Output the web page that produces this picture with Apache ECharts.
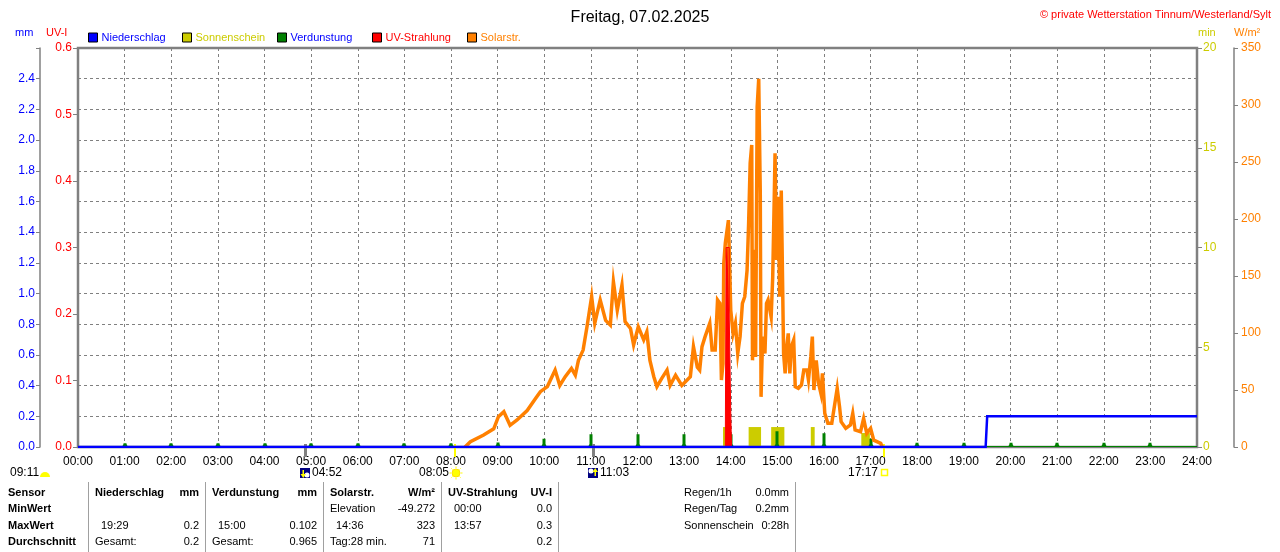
<!DOCTYPE html>
<html>
<head>
<meta charset="utf-8">
<title>Freitag, 07.02.2025</title>
<script src="https://cdn.jsdelivr.net/npm/echarts@6/dist/echarts.min.js"></script>
<style>
  html, body { margin: 0; padding: 0; background: #fff; }
  #chart { width: 1280px; height: 552px; }
</style>
</head>
<body>
<div id="chart"></div>
<script>
const FONT = "'Liberation Sans', Arial, sans-serif";

// Solarstrahlung W/m²
const solarTimes = [
  "08:18", "08:25", "08:42", "08:55", "09:01", "09:08", "09:16", "09:25", "09:38", "09:49",
  "09:55", "10:04", "10:14", "10:20", "10:27", "10:35", "10:40", "10:44", "10:50", "10:55",
  "11:01", "11:05", "11:12", "11:19", "11:25", "11:29", "11:34", "11:40", "11:44", "11:51",
  "11:55", "12:01", "12:08", "12:12", "12:16", "12:21", "12:25", "12:31", "12:38", "12:42",
  "12:49", "12:57", "13:08", "13:12", "13:17", "13:20", "13:23", "13:27", "13:33", "13:36",
  "13:40", "13:43", "13:46", "13:48", "13:50", "13:51", "13:53", "13:57", "13:59", "14:00",
  "14:03", "14:06", "14:09", "14:12", "14:15", "14:18", "14:21", "14:23", "14:25", "14:27",
  "14:28", "14:30", "14:32", "14:34", "14:36", "14:38", "14:39", "14:41", "14:44", "14:46",
  "14:48", "14:52", "14:54", "14:56", "14:57", "14:59", "15:01", "15:03", "15:05", "15:06",
  "15:08", "15:10", "15:12", "15:14", "15:16", "15:18", "15:21", "15:23", "15:27", "15:31",
  "15:34", "15:38", "15:40", "15:43", "15:45", "15:47", "15:50", "15:53", "15:56", "15:58",
  "16:01", "16:05", "16:10", "16:14", "16:17", "16:20", "16:22", "16:28", "16:34", "16:37",
  "16:40", "16:47", "16:51", "16:55", "17:00", "17:04", "17:13", "17:15",
];
const solarValues = [
  0, 4.6, 10.5, 16, 26.6, 31, 19, 23.7, 32, 42.7,
  48.5, 53, 67.5, 54, 61.7, 69, 63, 76, 85, 105.5,
  132, 108.5, 129, 111, 107, 145, 120, 142, 110, 104,
  89.5, 105.5, 94, 101, 76, 61.7, 53, 60, 67.5, 54,
  63, 54, 61.7, 88, 70, 67.5, 88, 96.8, 108.5, 85,
  85, 129, 126, 58.8, 73, 161, 178.7, 199, 199, 120,
  99.7, 108.5, 82, 96.8, 126, 131.8, 155, 196, 249, 265,
  76, 173, 79, 298.5, 323, 222.5, 44, 96.8, 82, 126,
  129, 114, 149, 219.5, 257.6, 164, 219.5, 131.8, 225, 178.7,
  82, 64.6, 88, 99.7, 64.6, 88, 93.9, 52.9, 51.5, 54.4,
  67.5, 67.5, 58.8, 79, 96.8, 50, 76, 55.9, 47, 64.6,
  29.5, 20.8, 20.8, 38.3, 51.5, 35.4, 22.2, 16.4, 19.3, 29.5,
  15, 13.4, 25, 12, 16.4, 6, 3.2, 0,
];

// UV-Index
const uvTimes = ["13:53", "13:54", "13:58", "13:58", "14:00", "14:00", "14:01", "14:01"];
const uvValues = [0, 0.3, 0.3, 0.2, 0.2, 0.05, 0.05, 0];

// Niederschlag mm
const rainTimes = ["00:00", "19:28", "19:29", "19:30", "24:00"];
const rainValues = [0, 0, 0.1, 0.2, 0.2];

// Verdunstung mm je Stunde
const evapHours = ["01:00", "02:00", "03:00", "04:00", "05:00", "06:00", "07:00", "08:00", "09:00", "10:00", "11:00", "12:00",
  "13:00", "14:00", "15:00", "16:00", "17:00", "18:00", "19:00", "20:00", "21:00", "22:00", "23:00"];
const evapValues = [0.025, 0.025, 0.025, 0.025, 0.025, 0.025, 0.025, 0.025, 0.03, 0.054, 0.083, 0.083,
  0.083, 0.083, 0.102, 0.089, 0.054, 0.028, 0.028, 0.028, 0.028, 0.028, 0.028];

// Sonnenschein min
const sunStart = ["13:50", "14:23", "14:52", "15:43", "16:48"];
const sunEnd = ["13:55", "14:39", "15:09", "15:48", "16:59"];
const sunValues = [1, 1, 1, 1, 0.7];

// Mond/Sonne
const eventTimes = ["04:52", "08:05", "11:03", "17:17"];
const eventKinds = ["moonset", "sunrise", "moonrise", "sunset"];
const dayLength = "09:11";

// Achsen [min, max, interval]
const mmTicks = [0, 2.6, 0.2];
const uvTicks = [0, 0.6, 0.1];
const minTicks = [0, 20, 5];
const wTicks = [0, 350, 50];

// Tabelle
const rowLabels = ["Sensor", "MinWert", "MaxWert", "Durchschnitt"];
const sensorNames = ["Niederschlag", "Verdunstung", "Solarstr.", "UV-Strahlung"];
const sensorUnits = ["mm", "mm", "W/m²", "UV-I"];
const minLabels = ["", "", "Elevation", "00:00"];
const minValues = ["", "", "-49.272", "0.0"];
const maxLabels = ["19:29", "15:00", "14:36", "13:57"];
const maxValues = ["0.2", "0.102", "323", "0.3"];
const avgLabels = ["Gesamt:", "Gesamt:", "Tag:28 min.", ""];
const avgValues = ["0.2", "0.965", "71", "0.2"];
const summaryLabels = ["Regen/1h", "Regen/Tag", "Sonnenschein"];
const summaryValues = ["0.0mm", "0.2mm", "0:28h"];

const legendNames = ["Niederschlag", "Sonnenschein", "Verdunstung", "UV-Strahlung", "Solarstr."];
const legendTextColors = ["#0000ff", "#cccc00", "#0000ff", "#ff0000", "#ff8000"];

function toMin(s) {
  const [h, m] = s.split(":").map(Number);
  return h * 60 + m;
}

function fmtTime(v) {
  const h = Math.floor(v / 60);
  const m = v % 60;
  return String(h).padStart(2, "0") + ":" + String(m).padStart(2, "0");
}

const pairs = (times, values) => times.map((t, i) => [toMin(t), values[i]]);

const chart = echarts.init(document.getElementById("chart"));

function textEl(text, x, y, opts = {}) {
  return {
    type: "text",
    silent: true,
    style: {
      text,
      x,
      y,
      fill: opts.color || "#000",
      font: (opts.bold ? "bold " : "") + (opts.size || 11) + "px " + FONT,
      textAlign: opts.align || "left",
      textVerticalAlign: "middle",
    },
  };
}

function buildTable() {
  const els = [];
  const rowsY = [493, 509, 526, 542];
  const seps = [88, 205, 323, 441, 558, 795];
  seps.forEach((x) => {
    els.push({ type: "line", silent: true, shape: { x1: x + 0.5, y1: 482, x2: x + 0.5, y2: 552 }, style: { stroke: "#a0a0a0", lineWidth: 1 } });
  });
  rowLabels.forEach((t, r) => els.push(textEl(t, 8, rowsY[r], { bold: true })));
  const isTime = (s) => /^\d\d:\d\d$/.test(s);
  sensorNames.forEach((name, c) => {
    const left = seps[c] + 7;
    const right = seps[c + 1] - 6;
    els.push(textEl(name, left, rowsY[0], { bold: true }));
    els.push(textEl(sensorUnits[c], right, rowsY[0], { bold: true, align: "right" }));
    const rows = [[minLabels[c], minValues[c]], [maxLabels[c], maxValues[c]], [avgLabels[c], avgValues[c]]];
    rows.forEach(([lab, val], r) => {
      if (lab) els.push(textEl(lab, left + (isTime(lab) ? 6 : 0), rowsY[r + 1]));
      if (val) els.push(textEl(val, right, rowsY[r + 1], { align: "right" }));
    });
  });
  summaryLabels.forEach((lab, r) => {
    els.push(textEl(lab, 684, rowsY[r]));
    els.push(textEl(summaryValues[r], 789, rowsY[r], { align: "right" }));
  });
  return els;
}

function axisTitles() {
  return [
    textEl("mm", 15, 33, { color: "#0000ff" }),
    textEl("UV-I", 46, 33, { color: "#ff0000" }),
    textEl("min", 1198, 33, { color: "#cccc00" }),
    textEl("W/m²", 1234, 33, { color: "#ff8000" }),
    textEl(dayLength, 10, 473, { size: 12 }),
    { type: "sector", silent: true, shape: { cx: 45, cy: 477, r: 5, startAngle: Math.PI, endAngle: Math.PI * 2 }, style: { fill: "#ffff00" } },
  ];
}

function yAxisBase(range, color, opts) {
  return Object.assign({
    type: "value",
    min: range[0],
    max: range[1],
    interval: range[2],
    axisLine: { show: false, onZero: false },
    axisTick: { show: true, length: 5, lineStyle: { color: "#808080" } },
    axisLabel: { color, fontSize: 12, fontFamily: FONT, margin: 6 },
    splitLine: { show: false },
  }, opts);
}

const option = {
  animation: false,
  backgroundColor: "#fff",
  textStyle: { fontFamily: FONT },
  title: [
    { text: "Freitag, 07.02.2025", left: "center", top: 5, textStyle: { fontSize: 16, fontWeight: "normal", color: "#000", fontFamily: FONT } },
    { text: "© private Wetterstation Tinnum/Westerland/Sylt", right: 4, top: 4, textStyle: { fontSize: 11, fontWeight: "normal", color: "#ff0000", fontFamily: FONT } },
  ],
  legend: legendNames.map((name, i) => ({
    left: [88, 182, 277, 372, 467][i],
    top: 32,
    padding: 0,
    itemWidth: 9,
    itemHeight: 9,
    itemGap: 0,
    icon: "rect",
    selectedMode: false,
    data: [name],
    itemStyle: { borderColor: "#000", borderWidth: 1 },
    textStyle: { color: legendTextColors[i], fontSize: 11, fontFamily: FONT, padding: [0, 0, 0, -1] },
  })),
  grid: { left: 78, right: 83, top: 48, bottom: 105, show: true, borderColor: "#808080", borderWidth: 2.5, backgroundColor: "transparent" },
  xAxis: {
    type: "value",
    min: 0,
    max: 1440,
    interval: 60,
    axisLine: { show: true, onZero: false, lineStyle: { color: "#808080", width: 2 } },
    axisTick: { show: false },
    axisLabel: { color: "#000", fontSize: 12, fontFamily: FONT, margin: 9, formatter: fmtTime, showMinLabel: true, showMaxLabel: true },
    splitLine: { show: true, lineStyle: { color: "#808080", type: [3, 3], width: 1 } },
  },
  yAxis: [
    yAxisBase(mmTicks, "#0000ff", {
      position: "left",
      offset: 38,
      axisLine: { show: true, onZero: false, lineStyle: { color: "#808080", width: 1.5 } },
      axisTick: { show: true, length: 4, lineStyle: { color: "#808080" } },
      axisLabel: { color: "#0000ff", fontSize: 12, fontFamily: FONT, margin: 5, formatter: (v) => (v > 2.5 ? "" : v.toFixed(1)) },
      splitLine: { show: true, lineStyle: { color: "#808080", type: [3, 3], width: 1 } },
    }),
    yAxisBase(uvTicks, "#ff0000", {
      position: "left",
      offset: 0,
      axisLabel: { color: "#ff0000", fontSize: 12, fontFamily: FONT, margin: 6, formatter: (v) => v.toFixed(1) },
    }),
    yAxisBase(minTicks, "#cccc00", { position: "right", offset: 0 }),
    yAxisBase(wTicks, "#ff8000", {
      position: "right",
      offset: 37,
      axisLine: { show: true, onZero: false, lineStyle: { color: "#808080", width: 1.5 } },
      axisTick: { show: true, length: 4, lineStyle: { color: "#808080" } },
      axisLabel: { color: "#ff8000", fontSize: 12, fontFamily: FONT, margin: 7 },
    }),
  ],
  series: [
    {
      name: "Sonnenschein",
      type: "custom",
      yAxisIndex: 2,
      itemStyle: { color: "#cccc00" },
      encode: { x: [0, 1], y: 2 },
      data: sunStart.map((s, i) => [toMin(s), toMin(sunEnd[i]), sunValues[i]]),
      renderItem: (params, api) => {
        const p0 = api.coord([api.value(0), 0]);
        const p1 = api.coord([api.value(1), api.value(2)]);
        return {
          type: "rect",
          shape: { x: p0[0], y: p1[1], width: p1[0] - p0[0], height: p0[1] - p1[1] },
          style: { fill: "#cccc00" },
        };
      },
    },
    {
      name: "Solarstr.",
      type: "line",
      yAxisIndex: 3,
      showSymbol: false,
      symbol: "none",
      itemStyle: { color: "#ff8000" },
      lineStyle: { color: "#ff8000", width: 3.5, join: "miter" },
      data: pairs(solarTimes, solarValues),
    },
    {
      name: "UV-Strahlung",
      type: "line",
      yAxisIndex: 1,
      showSymbol: false,
      symbol: "none",
      itemStyle: { color: "#ff0000" },
      lineStyle: { color: "#ff0000", width: 1 },
      areaStyle: { color: "#ff0000", opacity: 1 },
      data: pairs(uvTimes, uvValues),
    },
    {
      name: "Verdunstung",
      type: "custom",
      yAxisIndex: 0,
      itemStyle: { color: "#008000" },
      encode: { x: 0, y: 1 },
      data: pairs(evapHours, evapValues),
      renderItem: (params, api) => {
        const p = api.coord([api.value(0), api.value(1)]);
        const b = api.coord([api.value(0), 0]);
        const x = Math.round(b[0]);
        const children = [{
          type: "polygon",
          shape: { points: [[x - 1.5, p[1]], [x + 1.5, p[1]], [x + 1.5, b[1] - 3], [x + 3, b[1]], [x - 3, b[1]], [x - 1.5, b[1] - 3]] },
          style: { fill: "#008000" },
        }];
        if (params.dataIndex === 0) {
          const l = api.coord([0, 0]);
          const r = api.coord([1440, 0]);
          children.push({ type: "line", shape: { x1: l[0], y1: l[1] - 0.5, x2: r[0], y2: r[1] - 0.5 }, style: { stroke: "#008000", lineWidth: 1 } });
        }
        return { type: "group", children };
      },
    },
    {
      name: "Niederschlag",
      type: "line",
      yAxisIndex: 0,
      showSymbol: false,
      symbol: "none",
      itemStyle: { color: "#0000ff" },
      lineStyle: { color: "#0000ff", width: 2.5, join: "miter" },
      data: pairs(rainTimes, rainValues),
    },
    {
      name: "Ereignisse",
      type: "custom",
      yAxisIndex: 0,
      clip: false,
      silent: true,
      encode: { x: 0, y: 1 },
      data: eventTimes.map((t) => [toMin(t), 0]),
      renderItem: (params, api) => {
        const i = params.dataIndex;
        const kind = eventKinds[i];
        const p = api.coord([api.value(0), 0]);
        const x = Math.round(p[0]);
        const y0 = p[1];
        const ty = y0 + 26;
        const moon = kind.startsWith("moon");
        const children = [{
          type: "rect",
          shape: { x: x - 1, y: y0 - 3, width: moon ? 3 : 2, height: 13 },
          style: { fill: moon ? "#808080" : "#ffff00" },
        }];
        const label = { type: "text", style: { text: eventTimes[i], y: ty, fill: "#000", font: "12px " + FONT, textVerticalAlign: "middle" } };
        if (moon) {
          children.push({ type: "rect", shape: { x: x - 5, y: ty - 5, width: 10, height: 10 }, style: { fill: "#000080" } });
          const up = kind === "moonrise";
          children.push({ type: "circle", shape: { cx: up ? x - 2 : x + 2, cy: up ? ty - 2 : ty + 2, r: 2.5 }, style: { fill: "#ffffff" } });
          const ax = up ? x + 2 : x - 2;
          children.push({ type: "rect", shape: { x: ax - 0.5, y: ty - 3, width: 1.5, height: 6 }, style: { fill: "#ffff00" } });
          children.push({
            type: "polygon",
            shape: { points: up ? [[ax - 2.5, ty - 1], [ax + 0.25, ty - 5], [ax + 3, ty - 1]] : [[ax - 2.5, ty + 1], [ax + 0.25, ty + 5], [ax + 3, ty + 1]] },
            style: { fill: "#ffff00" },
          });
          label.style.x = x + 7;
          label.style.textAlign = "left";
        } else if (kind === "sunrise") {
          children.push({ type: "circle", shape: { cx: x + 1, cy: ty, r: 4 }, style: { fill: "#ffff00", stroke: "#ffe000", lineWidth: 1 } });
          for (let k = 0; k < 8; k++) {
            const a = (k * Math.PI) / 4;
            children.push({
              type: "line",
              shape: { x1: x + 1 + Math.cos(a) * 5, y1: ty + Math.sin(a) * 5, x2: x + 1 + Math.cos(a) * 6.5, y2: ty + Math.sin(a) * 6.5 },
              style: { stroke: "#ffff00", lineWidth: 1 },
            });
          }
          label.style.x = x - 6;
          label.style.textAlign = "right";
        } else {
          children.push({ type: "rect", shape: { x: x - 2.5, y: ty - 3.5, width: 6, height: 6 }, style: { fill: "none", stroke: "#ffff00", lineWidth: 1.5 } });
          label.style.x = x - 6;
          label.style.textAlign = "right";
        }
        children.push(label);
        return { type: "group", children };
      },
    },
  ],
  graphic: axisTitles().concat(buildTable()),
};

chart.setOption(option);
window.addEventListener("resize", () => chart.resize());
</script>
</body>
</html>
